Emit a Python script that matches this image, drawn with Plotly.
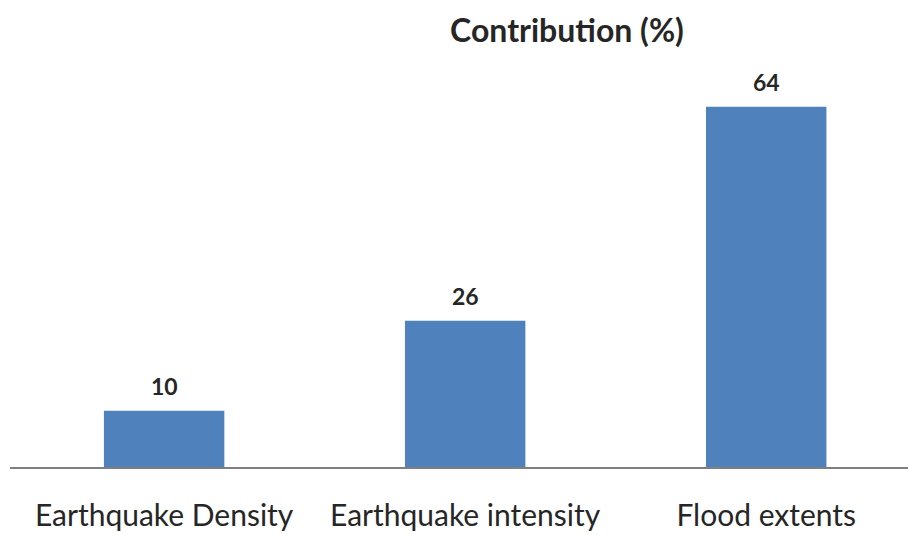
import plotly.graph_objects as go

categories = ["Earthquake Density", "Earthquake intensity", "Flood extents"]
values = [10, 26, 64]
title_text = "Contribution (%)"

BAR_COLOR = "#4F81BD"
TEXT_COLOR = "#262626"
FONT = "Lato"

fig = go.Figure()
fig.add_trace(go.Bar(
    x=categories,
    y=values,
    marker=dict(color=BAR_COLOR, line=dict(width=0)),
    hoverinfo="skip",
))

annotations = []
for c, v in zip(categories, values):
    annotations.append(dict(
        x=c, y=v, xref="x", yref="y",
        text=f"<b>{v}</b>",
        showarrow=False,
        yanchor="bottom",
        yshift=9,
        font=dict(family=FONT, size=23, color=TEXT_COLOR),
    ))

fig.update_layout(
    width=908, height=535,
    margin=dict(l=10, r=0, t=73, b=68),
    paper_bgcolor="white",
    plot_bgcolor="white",
    showlegend=False,
    bargap=0.6,
    title=dict(
        text=f"<b>{title_text}</b>",
        x=(567 - 10) / 898, xref="paper", xanchor="center",
        y=1 - 31 / 535, yref="container", yanchor="middle",
        font=dict(family=FONT, size=32, color=TEXT_COLOR),
    ),
    annotations=annotations,
    xaxis=dict(
        range=[-0.512, 2.471],
        showline=True, linecolor="#7f7f7f", linewidth=2,
        showgrid=False, zeroline=False,
        ticks="", ticklabelstandoff=21,
        tickfont=dict(family=FONT, size=30, color=TEXT_COLOR),
        fixedrange=True,
    ),
    yaxis=dict(
        range=[0, 70],
        visible=False,
        showgrid=False, zeroline=False,
        fixedrange=True,
    ),
)

fig.write_html("out.html")
